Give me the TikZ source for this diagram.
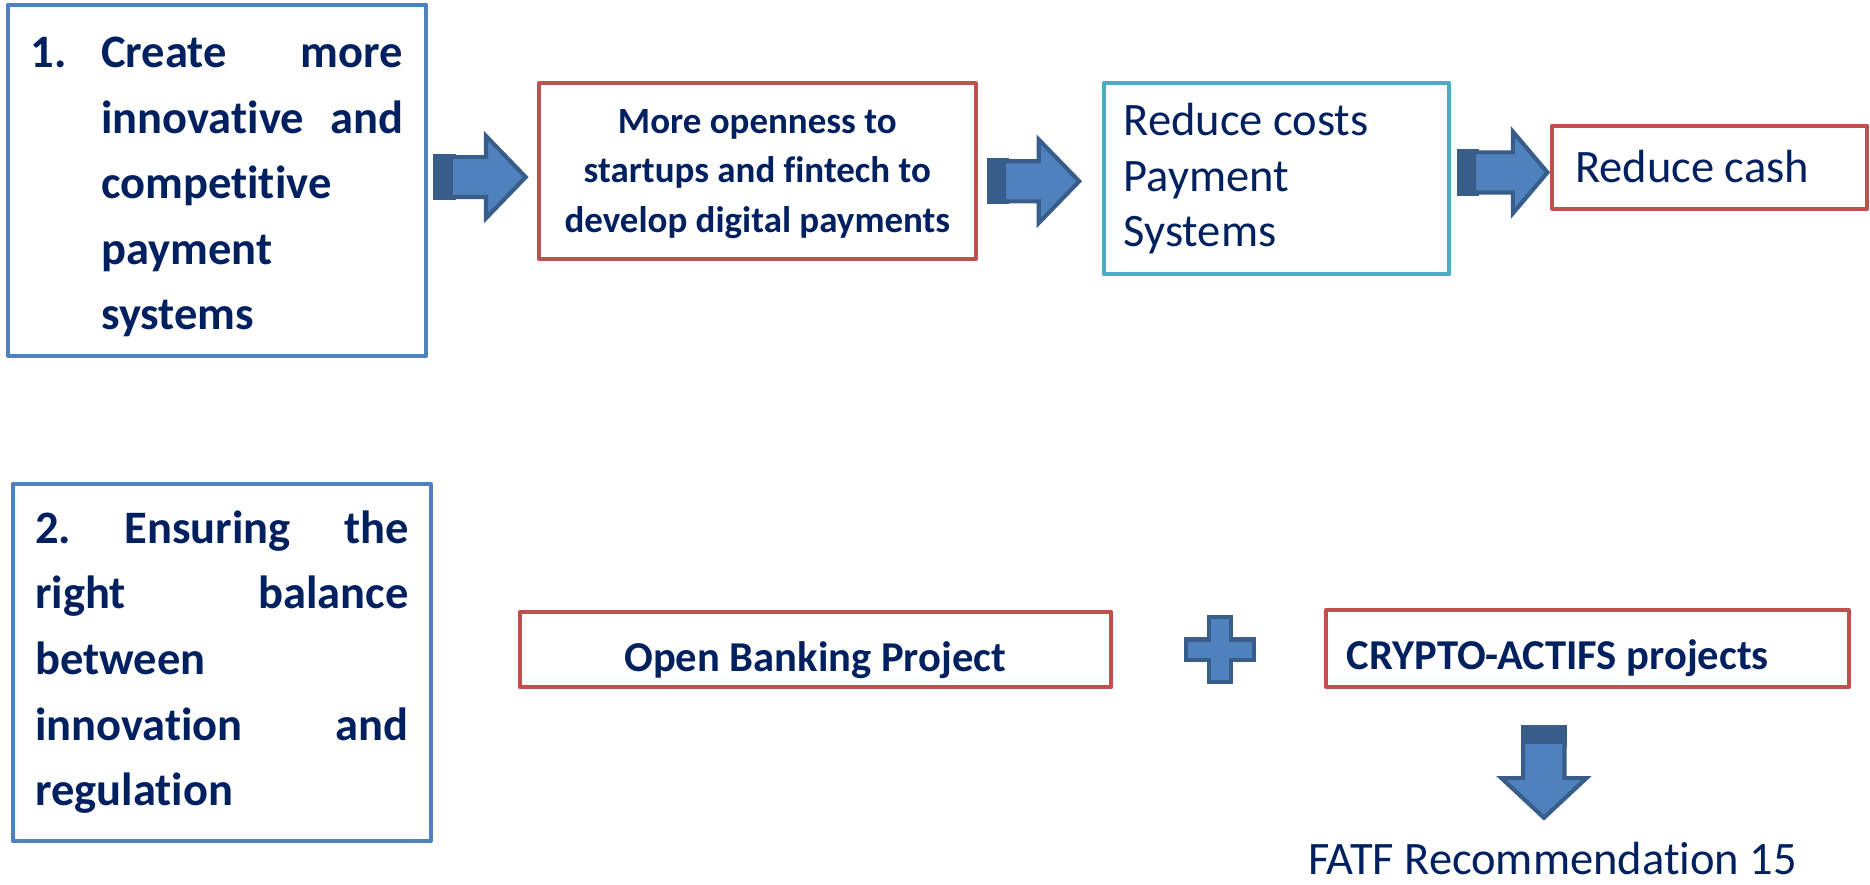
\documentclass[tikz,border=0pt]{standalone}
\usepackage{fontspec}
\setmainfont{Carlito}[Ligatures=NoCommon]
\definecolor{navy}{HTML}{002060}
\definecolor{boxblue}{HTML}{4F81BD}
\definecolor{boxred}{HTML}{C0504D}
\definecolor{boxteal}{HTML}{4BACC6}
\definecolor{arrfill}{HTML}{4F81BD}
\definecolor{arrline}{HTML}{385D8A}
\tikzset{
  box/.style={draw, line width=3.4pt, fill=white, inner sep=0pt, line join=round},
  bluebox/.style={box, draw=boxblue},
  redbox/.style={box, draw=boxred},
  tealbox/.style={box, draw=boxteal},
  txt/.style={inner sep=0pt, text=navy, anchor=base west},
  bigb/.style={txt, font=\fontsize{39}{55}\selectfont\bfseries},
  midb/.style={txt, font=\fontsize{31}{40}\selectfont\bfseries},
  obb/.style={txt, font=\fontsize{35.7}{43}\selectfont\bfseries},
  reg/.style={txt, font=\fontsize{39}{47}\selectfont},
  arrbody/.style={fill=arrfill, draw=arrline, line width=3.5pt, line join=miter},
  arrdark/.style={fill=arrline},
}
% #1 dark start x, #2 light start x, #3 head base x, #4 tip x, #5 centre y, #6 shaft half height, #7 head half height
\newcommand{\hblockarrow}[7]{%
  \fill[arrdark] (#1,{#5-#6-0.8}) rectangle ({#2+4},{#5+#6+0.8});
  \draw[arrbody] (#2,{#5-#6+1.75}) -- ({#3+1.75},{#5-#6+1.75}) -- ({#3+1.75},{#5-#7+3}) --
    ({#4-2.5},#5) -- ({#3+1.75},{#5+#7-3}) -- ({#3+1.75},{#5+#6-1.75}) -- (#2,{#5+#6-1.75}) -- cycle;}
\begin{document}
\frenchspacing
\begin{tikzpicture}[x=1pt,y=-1pt]
\fill[white] (0,0) rectangle (1568,741.3);
\useasboundingbox (0,0) rectangle (1568,741.3);

% boxes
\node[bluebox, minimum width=350pt, minimum height=294.5pt] (b1) at (182,151.25) {};
\node[bluebox, minimum width=350.4pt, minimum height=299pt] (b2) at (185.8,555.5) {};
\node[redbox, minimum width=366pt, minimum height=147.3pt] (r1) at (635,143.55) {};
\node[tealbox, minimum width=289.6pt, minimum height=160.7pt] (tb) at (1070.5,149.65) {};
\node[redbox, minimum width=264pt, minimum height=69.5pt] (rc) at (1433.5,140.25) {};
\node[redbox, minimum width=495.6pt, minimum height=63.3pt] (ob) at (683.8,544.65) {};
\node[redbox, minimum width=438pt, minimum height=64.3pt] (cr) at (1331,543.65) {};

% texts box 1
\node[bigb] (t1a) at (25.4,56.7) {\makebox[59.3pt][l]{1.}\makebox[253pt][s]{Create more}};
\node[bigb] (t1b) at (84.7,111.7) {\makebox[253pt][s]{innovative and}};
\node[bigb] (t1c) at (84.7,166.7) {competitive};
\node[bigb] (t1d) at (84.7,221.7) {payment};
\node[bigb] (t1e) at (84.7,276.7) {systems};

% texts box 2
\node[bigb] (t2a) at (29.3,455.6) {\makebox[313pt][s]{2. Ensuring the}};
\node[bigb] (t2b) at (29.3,510.6) {\makebox[313pt][s]{right balance}};
\node[bigb] (t2c) at (29.3,565.6) {between};
\node[bigb] (t2d) at (29.3,620.6) {\makebox[313pt][s]{innovation and}};
\node[bigb] (t2e) at (29.3,675.6) {regulation};

% red box 1
\node[midb, anchor=base] (t3a) at (635,111.8) {More openness to};
\node[midb, anchor=base] (t3b) at (635,153) {startups and fintech to};
\node[midb, anchor=base] (t3c) at (635,195) {develop digital payments};

% teal box
\node[reg] (t4a) at (942,113.2) {Reduce costs};
\node[reg] (t4b) at (942,160.7) {Payment};
\node[reg] (t4c) at (942,206.8) {Systems};

% reduce cash
\node[reg] (t5) at (1320.5,153) {Reduce cash};

% bottom row
\node[obb, anchor=base] (t6) at (683.6,563.2) {Open Banking Project};
\node[obb] (t7) at (1129,561) {CRYPTO-ACTIFS projects};
\node[reg, anchor=base east] (t8) at (1507,733.5) {FATF Recommendation 15};

% block arrows
\hblockarrow{363}{378}{405.7}{443.3}{148.5}{18.5}{37.5}
\hblockarrow{827.4}{841.7}{869.3}{907.4}{152}{18.6}{37.9}
\hblockarrow{1221.7}{1236}{1266.8}{1300}{144.6}{18.6}{37.2}

% down arrow
\fill[arrdark] (1275.4,608) rectangle (1313.5,626);
\draw[arrbody] (1277.15,622) -- (1311.75,622) -- (1311.75,652.45) -- (1330.2,652.45) --
  (1294.6,685.7) -- (1259,652.45) -- (1277.15,652.45) -- cycle;

% plus sign
\draw[arrbody] (1014.05,517.45) -- (1031.85,517.45) -- (1031.85,536.15) -- (1051.25,536.15) --
  (1051.25,553.55) -- (1031.85,553.55) -- (1031.85,571.75) -- (1014.05,571.75) --
  (1014.05,553.55) -- (994.75,553.55) -- (994.75,536.15) -- (1014.05,536.15) -- cycle;
\end{tikzpicture}
\end{document}
